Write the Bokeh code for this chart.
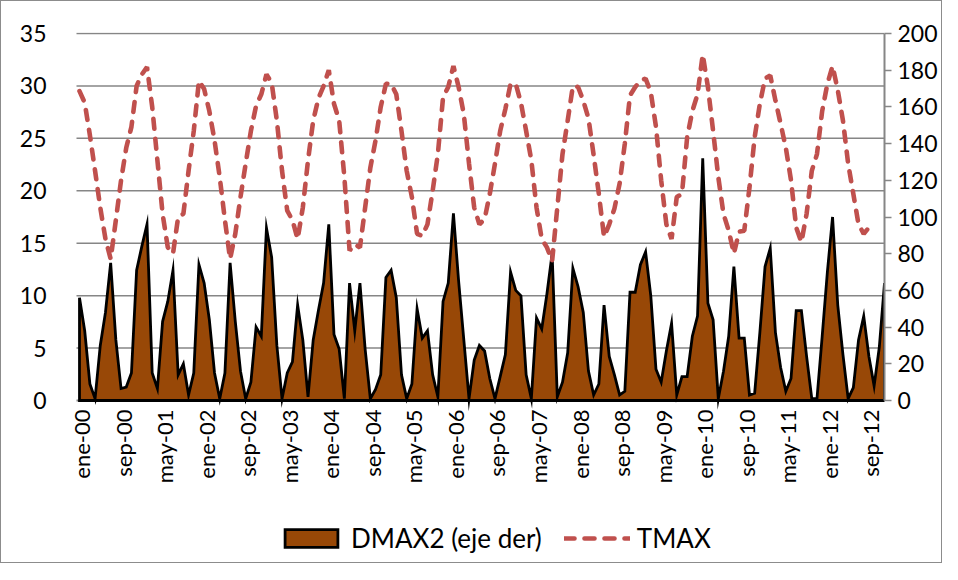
import numpy as np
from bokeh.plotting import figure
from bokeh.models import Range1d, LinearAxis, FixedTicker, Legend, LegendItem
from bokeh.core.properties import value
from bokeh.embed import file_html
from bokeh.resources import INLINE

# ---- data (monthly, ene-00 .. dic-12) ----
DMAX2 = [56, 38, 9, 1, 30, 48, 75, 33, 6.5, 7.3, 15, 71, 84, 96, 15, 6.5,
         43, 54, 71, 14, 20, 3, 15, 74, 64, 44, 15, 1, 15, 75, 43, 16,
         1, 10, 40, 35, 94, 78, 30, 1, 15, 21, 52, 33, 2, 33, 49, 64,
         96, 36, 28, 1, 64, 38, 64, 28, 1, 6, 14, 67, 71, 56, 14, 1,
         9, 50, 34, 38, 14, 2, 54, 64, 102, 65, 33, 1, 22, 30, 27, 12,
         1, 13, 25, 70, 60, 57, 14, 1, 45, 39, 58, 80, 2, 10, 26, 72,
         62, 48, 16, 3, 9, 52, 24, 14, 3, 5, 59, 59, 74, 81, 57, 17,
         10, 27, 42, 3, 13, 13, 35, 46, 132, 53, 44, 1, 16, 35, 73, 34,
         34, 3, 4, 37, 73, 83, 37, 18, 5, 12, 49, 49, 24, 1, 1, 35,
         70, 100, 52, 25, 1, 7, 33, 46, 24, 8, 29, 64]

TMAX = [29.5, 28.4, 25.3, 21.9, 18.4, 15.4, 13.5, 17.2, 21.0, 24.1, 26.1, 30.0,
        31.1, 31.8, 28.0, 22.9, 17.8, 14.6, 14.0, 17.5, 17.8, 21.9, 25.7, 30.5,
        29.7, 27.6, 24.8, 21.3, 17.2, 13.5, 15.9, 19.4, 22.6, 25.7, 28.1, 29.2,
        31.1, 30.3, 26.7, 21.9, 18.1, 17.2, 15.4, 18.4, 22.9, 26.7, 28.8, 30.0,
        31.5, 28.3, 26.7, 21.3, 14.3, 14.9, 14.6, 18.4, 22.2, 24.8, 28.0, 30.2,
        30.2, 29.2, 25.7, 21.9, 19.4, 15.9, 15.7, 16.8, 20.0, 23.5, 28.9, 29.9,
        31.9, 29.9, 27.3, 22.6, 18.4, 16.8, 17.3, 19.7, 22.6, 25.7, 27.8, 30.2,
        30.2, 28.4, 25.7, 22.9, 18.4, 15.4, 14.6, 13.3, 18.4, 23.5, 26.7, 30.0,
        29.9, 28.6, 26.9, 23.4, 19.7, 15.6, 16.8, 18.3, 20.7, 24.5, 29.1, 29.9,
        30.5, 30.7, 29.4, 26.1, 21.0, 16.8, 15.4, 19.4, 19.7, 25.1, 27.6, 29.2,
        33.0, 29.9, 25.7, 21.3, 17.8, 16.2, 14.0, 16.1, 16.2, 20.3, 25.1, 28.3,
        30.7, 31.0, 28.6, 26.4, 24.1, 21.0, 16.5, 15.1, 17.8, 21.9, 23.5, 27.6,
        30.2, 31.9, 29.6, 26.7, 22.6, 19.7, 16.8, 15.9, 16.5, None, None, None]

TICK_LABELS = ["ene-00", "sep-00", "may-01", "ene-02", "sep-02", "may-03",
               "ene-04", "sep-04", "may-05", "ene-06", "sep-06", "may-07",
               "ene-08", "sep-08", "may-09", "ene-10", "sep-10", "may-11",
               "ene-12", "sep-12"]
TICK_STEP = 8
LEFT_TICKS = [0, 5, 10, 15, 20, 25, 30, 35]
RIGHT_TICKS = [0, 20, 40, 60, 80, 100, 120, 140, 160, 180, 200]
LEFT_MAX, RIGHT_MAX = 35, 200

n = len(DMAX2)
months = list(range(n))
tmax_arr = np.array([np.nan if v is None else v for v in TMAX], dtype=float)
tick_pos = list(range(0, n, TICK_STEP))

FONT = "Lato"
GRID = "#868686"

# ---- layout geometry (pixels) ----
PLOT_W = 805          # width of the data area (first to last month)
LEFT_PAD = 13         # extra frame room left of the first month (for its label)
PLOT_H = 367          # height of 0..35
BELOW = 160           # frame room below zero (category labels + legend)
ABOVE = 1
FH = PLOT_H + BELOW + ABOVE
ppu = PLOT_H / LEFT_MAX
ppm = PLOT_W / (n - 1)
y0, y1 = -BELOW / ppu, LEFT_MAX + ABOVE / ppu
x0 = -LEFT_PAD / ppm
k = RIGHT_MAX / LEFT_MAX
grid_start = -3 / ppm

p = figure(frame_width=PLOT_W + LEFT_PAD, frame_height=FH,
           x_range=Range1d(x0, n - 1), y_range=Range1d(y0, y1),
           output_backend="svg", toolbar_location=None,
           min_border_left=78 - LEFT_PAD, min_border_right=57,
           min_border_top=31, min_border_bottom=2,
           background_fill_color="white", border_fill_color="white")
p.styles = {"border": "1px solid #8c8c8c"}
p.outline_line_color = None
p.extra_y_ranges = {"der": Range1d(y0 * k, y1 * k)}

# horizontal gridlines (left-axis ticks) and category axis line
p.xgrid.visible = False
p.ygrid.visible = False
p.segment(x0=[grid_start] * len(LEFT_TICKS), y0=LEFT_TICKS,
          x1=[n - 1] * len(LEFT_TICKS), y1=LEFT_TICKS,
          line_color=GRID, line_width=[2 if t == 0 else 1.5 for t in LEFT_TICKS])

# area (right axis)
xs = [months[0]] + months + [months[-1]]
ys = [0] + DMAX2 + [0]
area = p.patch(xs, ys, fill_color="#984807", line_color="black",
               line_width=2.8, line_join="miter", y_range_name="der")

# TMAX line (left axis)
line = p.line(months, tmax_arr, line_color="#C0504D", line_width=4.6,
              line_dash="10 10", line_cap="round")

# rotated category labels
p.text(x=tick_pos, y=[0] * len(tick_pos), text=TICK_LABELS, angle=np.pi / 2,
       text_align="right", text_baseline="middle", x_offset=2, y_offset=9,
       text_font=value(FONT), text_font_size="22px", text_color="black")

p.xaxis.visible = False

# left axis (labels only)
ya = p.yaxis[0]
ya.ticker = FixedTicker(ticks=LEFT_TICKS)
ya.axis_line_color = None
ya.major_tick_line_color = None
ya.minor_tick_line_color = None
ya.major_label_standoff = 27 - LEFT_PAD
ya.major_label_text_font = FONT
ya.major_label_text_font_size = "23px"
ya.major_label_text_color = "black"

# right axis
ra = LinearAxis(y_range_name="der", ticker=FixedTicker(ticks=RIGHT_TICKS),
                bounds=(0, RIGHT_MAX))
ra.axis_line_color = GRID
ra.axis_line_width = 2
ra.major_tick_line_color = GRID
ra.major_tick_line_width = 1.5
ra.major_tick_out = 7
ra.major_tick_in = 0
ra.minor_tick_line_color = None
ra.major_label_standoff = 6
ra.major_label_text_font = FONT
ra.major_label_text_font_size = "23px"
ra.major_label_text_color = "black"
p.add_layout(ra, "right")

legend = Legend(items=[LegendItem(label="DMAX2 (eje der)", renderers=[area]),
                       LegendItem(label="TMAX", renderers=[line])],
                orientation="horizontal", location=(199 + LEFT_PAD, 6), margin=0,
                border_line_color=None, background_fill_alpha=0,
                padding=0, spacing=22, label_standoff=7,
                glyph_width=66, glyph_height=22,
                label_text_font=FONT, label_text_font_size="26px",
                label_text_color="black")
p.add_layout(legend)

open("out.html", "w").write(file_html(p, INLINE))
